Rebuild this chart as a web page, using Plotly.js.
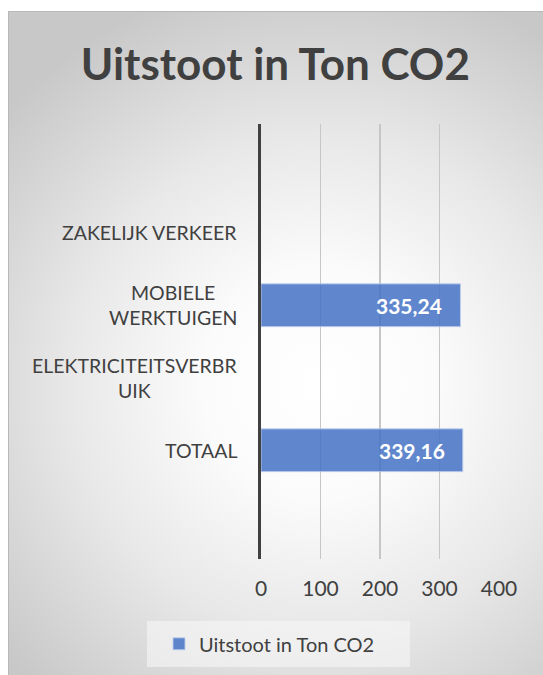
<!DOCTYPE html>
<html>
<head>
<meta charset="utf-8">
<script src="https://cdn.plot.ly/plotly-3.0.1.min.js"></script>
<style>
  html, body { margin: 0; padding: 0; background: #ffffff; width: 543px; height: 675px; overflow: hidden; }
  #bg {
    position: absolute; left: 8px; top: 11px; width: 535px; height: 664px;
    border-left: 1px solid #b8b8b8; border-top: 1px solid #b8b8b8;
    background: radial-gradient(ellipse 78% 62% at 58% 56%, #ffffff 0%, #fbfbfb 28%, #e8e8e8 60%, #d4d4d4 85%, #c8c8c8 100%);
  }
  #chart { position: absolute; left: 0; top: 0; width: 543px; height: 675px; }
</style>
</head>
<body>
<div id="bg"></div>
<div id="chart"></div>
<script>
const categories = ["ZAKELIJK VERKEER", "MOBIELE WERKTUIGEN", "ELEKTRICITEITSVERBRUIK", "TOTAAL"];
const categoryLabels = ["ZAKELIJK VERKEER", "MOBIELE<br>WERKTUIGEN", "ELEKTRICITEITSVERBR<br>UIK", "TOTAAL"];
const values = [null, 335.24, null, 339.16];
const valueLabels = ["", "335,24", "", "339,16"];
const seriesName = "Uitstoot in Ton CO2";
const xTicks = [0, 100, 200, 300, 400];

const FONT = "Lato, 'Open Sans', sans-serif";
const TXT = "#404040";

const trace = {
  type: "bar",
  orientation: "h",
  x: values,
  y: categories,
  name: seriesName,
  marker: { color: "rgba(68,114,196,0.85)", line: { color: "rgba(190,205,235,0.9)", width: 1 } },
  hoverinfo: "skip",
  showlegend: true
};

const annotations = [];
categories.forEach((c, i) => {
  annotations.push({
    xref: "paper", yref: "y", x: 0, y: c, xanchor: "right", yanchor: "middle",
    xshift: -22, text: categoryLabels[i], showarrow: false, align: "center",
    font: { family: FONT, size: 19.5, color: TXT }
  });
  if (values[i] !== null) {
    annotations.push({
      xref: "x", yref: "y", x: values[i], y: c, xanchor: "right", yanchor: "middle",
      xshift: -16, text: "<b>" + valueLabels[i] + "</b>", showarrow: false,
      font: { family: FONT, size: 21, color: "#ffffff" }
    });
  }
});

const layout = {
  width: 543, height: 675,
  paper_bgcolor: "rgba(0,0,0,0)",
  plot_bgcolor: "rgba(0,0,0,0)",
  margin: { l: 261, r: 44, t: 124, b: 116 },
  title: {
    text: "<b>Uitstoot in Ton CO2</b>",
    font: { family: FONT, size: 44, color: TXT },
    xref: "container", yref: "container", x: 0.507, xanchor: "center", y: 0.905, yanchor: "middle"
  },
  bargap: 0.41,
  xaxis: {
    range: [0, 400], tickvals: xTicks, ticktext: xTicks.map(String),
    showgrid: true, gridcolor: "#c6c6c6", gridwidth: 1.5,
    zeroline: false, showline: false, ticks: "",
    ticklabelstandoff: 15,
    tickfont: { family: FONT, size: 21, color: TXT },
    fixedrange: true
  },
  yaxis: {
    type: "category", categoryorder: "array", categoryarray: categories,
    range: [4.5, -1.5],
    showticklabels: false, showgrid: false, zeroline: false,
    showline: true, linecolor: "#404040", linewidth: 3,
    ticks: "", fixedrange: true
  },
  shapes: [{
    type: "rect", xref: "paper", yref: "paper",
    x0: -0.479, x1: 0.626, y0: -0.248, y1: -0.1425,
    fillcolor: "rgba(246,246,246,0.6)", line: { width: 0 }, layer: "below"
  }],
  showlegend: true,
  legend: {
    orientation: "h", x: -0.4286, xanchor: "left", y: -0.195, yanchor: "middle",
    bgcolor: "rgba(0,0,0,0)", borderwidth: 0,
    font: { family: FONT, size: 20, color: TXT },
    itemwidth: 30
  },
  annotations: annotations
};

Plotly.newPlot("chart", [trace], layout, { displayModeBar: false, staticPlot: true });
</script>
</body>
</html>
